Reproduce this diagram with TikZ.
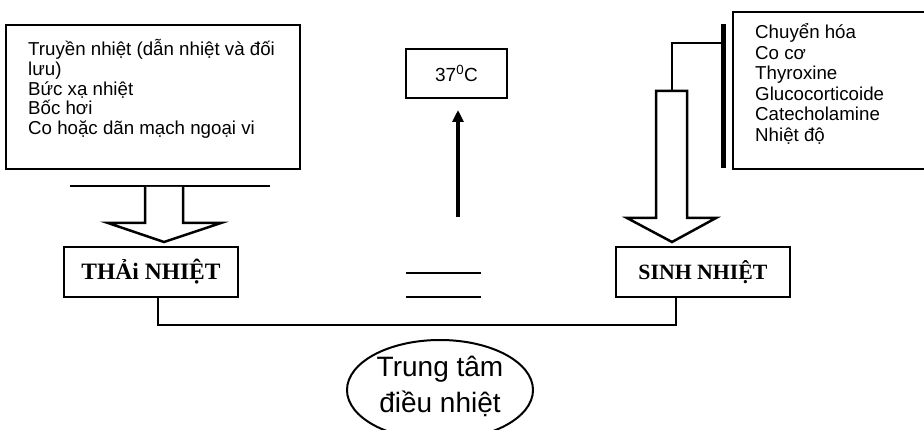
\documentclass[tikz,border=0pt]{standalone}
\usepackage{fontspec}
\setmainfont{Liberation Sans}
\newfontfamily\headfont{Liberation Serif}
\usetikzlibrary{arrows.meta,shapes.geometric}

\tikzset{
  frame/.style={draw, line width=2.6pt, inner sep=0pt, rectangle},
  item/.style={anchor=base west, inner sep=0pt, font=\fontsize{18.7}{20}\selectfont},
  headbox/.style={frame, minimum width=174pt, minimum height=50pt},
  link/.style={line width=2pt},
  blockarrow/.style={draw, fill=white, line width=2.5pt, line join=miter},
}

\begin{document}
\begin{tikzpicture}[x=1pt, y=-1pt]
\useasboundingbox (0,0) rectangle (924,430);
\clip (0,0) rectangle (924,430);

% heat loss mechanisms
\node[frame, minimum width=294pt, minimum height=144pt] (loss) at (153,97) {};
\foreach \t [count=\i] in {Truyền nhiệt (dẫn nhiệt và đối, lưu), Bức xạ nhiệt, Bốc hơi, Co hoặc dãn mạch ngoại vi}
  \node[item] (loss\i) at (28,{55.7+19.7*(\i-1)}) {\t};

% heat production factors (box runs past the right border)
\node[frame, minimum width=210pt, minimum height=157pt] (gain) at (838,90.5) {};
\foreach \t [count=\i] in {Chuyển hóa, Co cơ, Thyroxine, Glucocorticoide, Catecholamine, Nhiệt độ}
  \node[item] (gain\i) at (755,{39+20.5*(\i-1)}) {\t};

% bracket on the left side of the factor list
\coordinate (barT) at (723,24);
\coordinate (barB) at (723,168);
\draw[line width=5pt] (barT) -- (barB);

% target temperature
\node[frame, line width=2.2pt, minimum width=101pt, minimum height=49pt,
      font=\fontsize{19}{22}\selectfont] (temp) at (456.5,73.5) {37\textsuperscript{0}C};
\coordinate (upS) at (458,217);
\coordinate (upE) at (458,110);
\draw[line width=3.5pt, -{Triangle[width=11pt,length=12pt]}] (upS) -- (upE);

% equality mark
\coordinate (eqA1) at (406,273); \coordinate (eqA2) at (481,273);
\coordinate (eqB1) at (406,297); \coordinate (eqB2) at (481,297);
\draw[link] (eqA1) -- (eqA2);
\draw[link] (eqB1) -- (eqB2);

% heat loss / heat production boxes
\node[headbox, font=\headfont\bfseries\fontsize{23.5}{26}\selectfont] (thai) at (151,272) {THẢi NHIỆT};
\node[headbox, font=\headfont\bfseries\fontsize{21.8}{24}\selectfont] (sinh) at (703,272) {SINH NHIỆT};

% left block arrow under the bar
\coordinate (lbarL) at (70,186);
\coordinate (lbarR) at (270,186);
\draw[line width=2.6pt] (lbarL) -- (lbarR);
\draw[blockarrow] (145,187) -- (145,223) -- (108,223) -- (164,242) -- (221,223) -- (183,223) -- (183,187);

% right block arrow fed from the bracket
\draw[blockarrow] (656,91) -- (656,218) -- (627,218) -- (672,242) -- (716,218) -- (687,218) -- (687,91) -- cycle;
\coordinate (feed) at (672,91);
\draw[link] (feed) |- (barT |- 0,43);

% link between the two boxes
\draw[link] (thai.south -| 158,0) -- (158,325) -| (sinh.south -| 676,0);

% regulation centre
\node[draw, ellipse, line width=2pt, minimum width=186pt, minimum height=100pt, inner sep=0pt] (ctr) at (440,390) {};
\node[anchor=base, inner sep=0pt, font=\fontsize{28}{34}\selectfont] (ctr1) at (440,377) {Trung tâm};
\node[anchor=base, inner sep=0pt, font=\fontsize{28}{34}\selectfont] (ctr2) at (440,412) {điều nhiệt};
\end{tikzpicture}
\end{document}
